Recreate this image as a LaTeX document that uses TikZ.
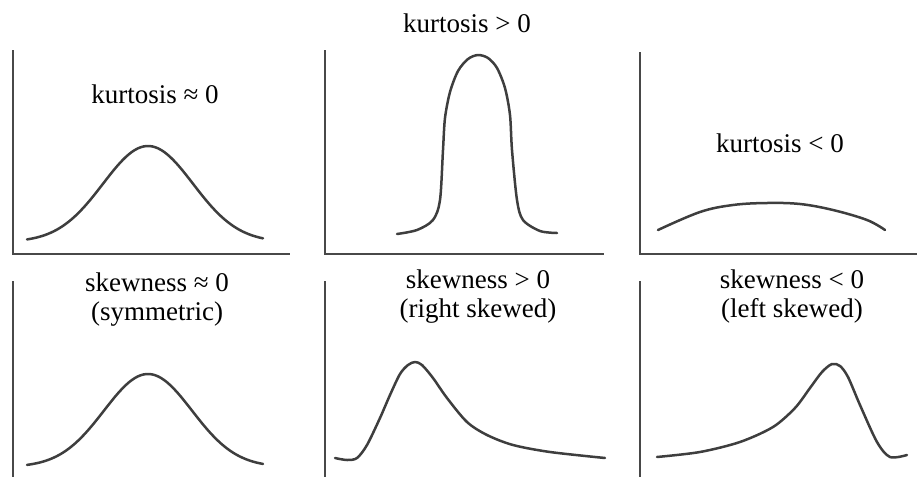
\documentclass[tikz,border=0pt]{standalone}
\usepackage{fontspec}
\setmainfont{Liberation Serif}
\definecolor{axiscol}{RGB}{72,72,72}
\definecolor{curvecol}{RGB}{62,62,62}
\begin{document}
\begin{tikzpicture}[x=0.5pt,y=-0.5pt,
  axis/.style={draw=axiscol,line width=1pt},
  curve/.style={draw=curvecol,line width=1.25pt,line join=round,line cap=round},
  lbl/.style={font=\fontsize{13.5}{14.5}\selectfont,anchor=base,inner sep=0pt}]
\useasboundingbox (0,0) rectangle (917,477);
% axes top row
\draw[axis] (13,50) -- (13,254) -- (290,254);
\draw[axis] (325,50) -- (325,254) -- (604,254);
\draw[axis] (640,52) -- (640,254) -- (917,254);
% axes bottom row
\draw[axis] (13,281) -- (13,477);
\draw[axis] (325,281) -- (325,477);
\draw[axis] (640,281) -- (640,477);
% labels
\node[lbl] (t1) at (155,103) {kurtosis ≈ 0};
\node[lbl] (t2) at (467,32) {kurtosis > 0};
\node[lbl] (t3) at (780,152) {kurtosis < 0};
\node[lbl] (t4a) at (157,291) {skewness ≈ 0};
\node[lbl] (t4b) at (157,320) {(symmetric)};
\node[lbl] (t5a) at (478,288) {skewness > 0};
\node[lbl] (t5b) at (478,317) {(right skewed)};
\node[lbl] (t6a) at (792,288) {skewness < 0};
\node[lbl] (t6b) at (792,317) {(left skewed)};
% curves
\draw[curve] plot[domain=27:263,samples=80,smooth] (\x,{242-96*exp(-((\x-148)^2)/(2*45*45))});
\draw[curve] plot[smooth,tension=0.5] coordinates {(397,234) (417,230) (433,220) (440,200) (443,150) (445,118) (450,92) (458,71) (468,59) (478,55) (488,58) (497,68) (505,88) (510,115) (512,150) (517,200) (523,220) (540,231) (557,233)};
\draw[curve] plot[smooth,tension=0.6] coordinates {(658,230) (700,212) (733,205) (767,203) (800,204) (833,210) (867,220) (885,230)};
\draw[curve] plot[domain=27:263,samples=80,smooth] (\x,{467-93*exp(-((\x-148)^2)/(2*44*44))});
\draw[curve] plot[smooth,tension=0.5] coordinates {(335,458) (347,460) (357,458) (367,445) (380,418) (390,395) (400,374) (408,365) (415,362) (422,365) (433,378) (447,398) (467,422) (487,435) (513,445) (550,452) (605,458)};
\draw[curve] plot[smooth,tension=0.5] coordinates {(657,457) (700,452) (740,442) (773,427) (795,408) (810,388) (822,372) (832,364) (840,366) (848,377) (860,405) (877,442) (890,457) (907,455)};
\end{tikzpicture}
\end{document}
